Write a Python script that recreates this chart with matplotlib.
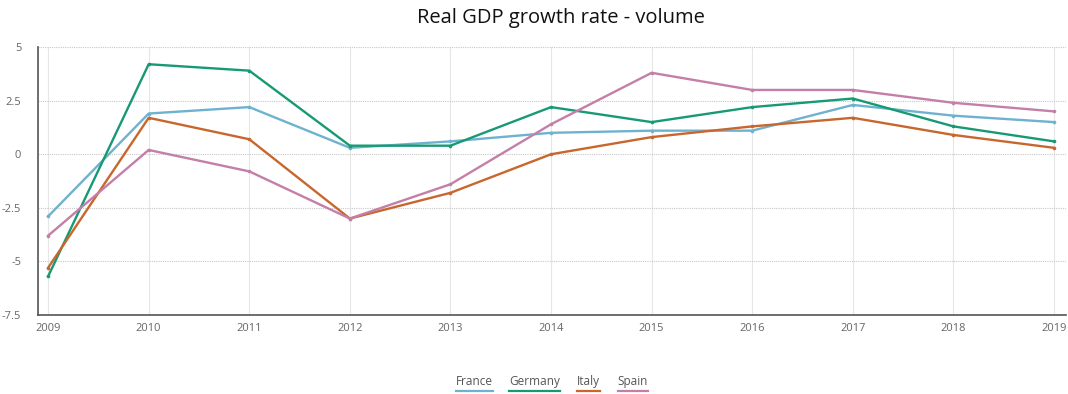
import matplotlib
matplotlib.use("Agg")
import matplotlib.pyplot as plt
from matplotlib.lines import Line2D

years = [2009, 2010, 2011, 2012, 2013, 2014, 2015, 2016, 2017, 2018, 2019]
france = [-2.9, 1.9, 2.2, 0.3, 0.6, 1.0, 1.1, 1.1, 2.3, 1.8, 1.5]
germany = [-5.7, 4.2, 3.9, 0.4, 0.4, 2.2, 1.5, 2.2, 2.6, 1.3, 0.6]
italy = [-5.3, 1.7, 0.7, -3.0, -1.8, 0.0, 0.8, 1.3, 1.7, 0.9, 0.3]
spain = [-3.8, 0.2, -0.8, -3.0, -1.4, 1.4, 3.8, 3.0, 3.0, 2.4, 2.0]

y_ticks = [5, 2.5, 0, -2.5, -5, -7.5]
y_labels = ["5", "2.5", "0", "-2.5", "-5", "-7.5"]

series = [
    ("France", france, "#6fb2cf"),
    ("Germany", germany, "#179a74"),
    ("Italy", italy, "#c8672d"),
    ("Spain", spain, "#c47fa9"),
]

plt.rcParams["font.family"] = ["Open Sans", "DejaVu Sans"]

fig = plt.figure(figsize=(10.68, 3.94), dpi=100)
ax = fig.add_axes([0.0356, 0.2005, 0.9626, 0.68])

for name, vals, col in series:
    ax.plot(years, vals, color=col, lw=1.7, marker="o", ms=2.6,
            markeredgewidth=0, zorder=3)

ax.set_xlim(2008.9, 2019.12)
ax.set_ylim(-7.5, 5)
ax.set_xticks(years)
ax.set_xticklabels([str(y) for y in years])
ax.set_yticks(y_ticks)
ax.set_yticklabels(y_labels)
ax.tick_params(axis="both", length=0, labelsize=8, colors="#666666")
ax.tick_params(axis="y", pad=12)
ax.tick_params(axis="x", pad=6)

ax.grid(axis="x", color="#e6e6e6", lw=0.8, ls="-")
ax.grid(axis="y", color="#c8c8c8", lw=0.8, ls=(0, (1, 1)))
ax.set_axisbelow(True)

for s in ["top", "right"]:
    ax.spines[s].set_visible(False)
for s in ["left", "bottom"]:
    ax.spines[s].set_color("#555555")
    ax.spines[s].set_linewidth(1.2)

fig.text(0.525, 0.955, "Real GDP growth rate - volume", ha="center",
         va="center", fontsize=14.5, color="#111111")

# legend: names with a coloured underline
xs = [0.4265, 0.4765, 0.540, 0.5785]
fig.canvas.draw()
renderer = fig.canvas.get_renderer()
inv = fig.transFigure.inverted()
for (name, vals, col), x in zip(series, xs):
    t = fig.text(x, 0.033 - 0.017, name, ha="left", va="bottom",
                 fontsize=8.5, color="#555555")
    bb = t.get_window_extent(renderer)
    (x0, _), (x1, _) = inv.transform([(bb.x0, bb.y0), (bb.x1, bb.y1)])
    fig.add_artist(Line2D([x0, x1], [0.007, 0.007], color=col, lw=1.6,
                          transform=fig.transFigure))

fig.savefig("out.png", dpi=100)
